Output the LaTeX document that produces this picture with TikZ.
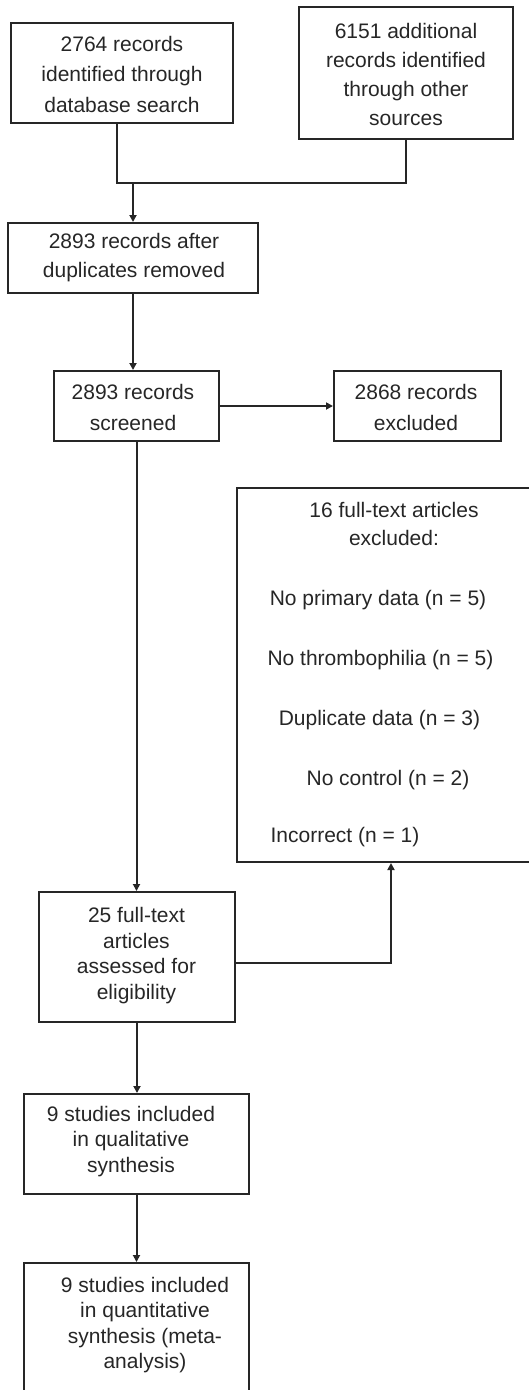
\documentclass[tikz,border=0pt]{standalone}
\usepackage{fontspec}
\setmainfont{Liberation Sans}
\usetikzlibrary{arrows.meta}
\begin{document}
\begin{tikzpicture}[x=1pt,y=-1pt,
  box/.style={draw=black!85,line width=2pt,rectangle,inner sep=0pt},
  txt/.style={align=center,inner sep=0pt,text=black!85},
  conn/.style={draw=black!85,line width=2pt},
  arr/.style={conn,-{Triangle[length=7pt,width=7pt]}}]
\useasboundingbox (0,0) rectangle (529,1390);
\clip (0,0) rectangle (529,1390);
% boxes
\node[box,minimum width=222pt,minimum height=100pt] (A) at (122,73) {};
\node[box,minimum width=214pt,minimum height=132pt] (B) at (406,73) {};
\node[box,minimum width=250pt,minimum height=70pt] (C) at (133,258) {};
\node[box,minimum width=165pt,minimum height=70pt] (D) at (136.5,406) {};
\node[box,minimum width=167pt,minimum height=70pt] (E) at (417.5,406) {};
\node[box,minimum width=308pt,minimum height=374pt] (F) at (391,675) {};
\node[box,minimum width=196pt,minimum height=130pt] (G) at (137,957) {};
\node[box,minimum width=225pt,minimum height=100pt] (H) at (136.5,1144) {};
\node[box,minimum width=225pt,minimum height=157pt] (I) at (136.5,1341.5) {};
% texts
\node[txt,font=\fontsize{21}{30.5}\selectfont] (tA) at (122,74) {2764 records\\identified through\\database search};
\node[txt,font=\fontsize{21}{29}\selectfont] (tB) at (406,74.5) {6151 additional\\records identified\\through other\\sources};
\node[txt,font=\fontsize{21}{29}\selectfont] (tC) at (134,257.5) {2893 records after\\duplicates removed};
\node[txt,font=\fontsize{21}{31}\selectfont] (tD) at (133,407.5) {2893 records\\screened};
\node[txt,font=\fontsize{21}{31}\selectfont] (tE) at (416,407.5) {2868 records\\excluded};
\node[txt,font=\fontsize{21}{28}\selectfont] (tF) at (394,524) {16 full-text articles\\excluded:};
\node[txt,font=\fontsize{21}{25}\selectfont] (f1) at (378,600) {No primary data (n = 5)};
\node[txt,font=\fontsize{21}{25}\selectfont] (f2) at (380.5,660) {No thrombophilia (n = 5)};
\node[txt,font=\fontsize{21}{25}\selectfont] (f3) at (379.5,720) {Duplicate data (n = 3)};
\node[txt,font=\fontsize{21}{25}\selectfont] (f4) at (388,780) {No control (n = 2)};
\node[txt,font=\fontsize{21}{25}\selectfont] (f5) at (345,837) {Incorrect (n = 1)};
\node[txt,font=\fontsize{21}{25.7}\selectfont] (tG) at (136.5,955.5) {25 full-text\\articles\\assessed for\\eligibility};
\node[txt,font=\fontsize{21}{25.5}\selectfont] (tH) at (131,1141.5) {9 studies included\\in qualitative\\synthesis};
\node[txt,font=\fontsize{21}{25.3}\selectfont] (tI) at (145,1325) {9 studies included\\in quantitative\\synthesis (meta-\\analysis)};
% connectors
\coordinate (m) at (117,183);
\coordinate (jn) at (133,183);
\draw[conn] ([xshift=-5pt]A.south) -- (m) -| (B.south);
\draw[arr] (jn) -- (jn |- C.north);
\draw[arr] (C.south) -- (C.south |- D.north);
\draw[arr] (D.east) -- (E.west);
\draw[arr] (D.south) -- (D.south |- G.north);
\draw[arr] ([yshift=-6pt]G.east) -| (F.south);
\draw[arr] (G.south) -- (G.south |- H.north);
\draw[arr] (H.south) -- (H.south |- I.north);
\end{tikzpicture}
\end{document}
